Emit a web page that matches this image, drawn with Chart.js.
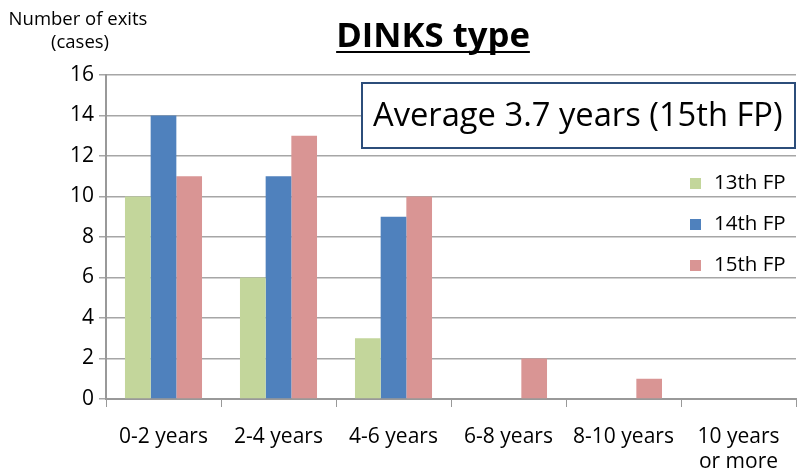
<!DOCTYPE html>
<html>
<head>
<meta charset="utf-8">
<script src="https://cdn.jsdelivr.net/npm/chart.js@4.4.1/dist/chart.umd.min.js"></script>
<style>
  html, body { margin: 0; padding: 0; background: #fff; }
  #wrap { width: 801px; height: 473px; position: relative; }
</style>
</head>
<body>
<div id="wrap"><canvas id="exitChart"></canvas></div>
<script>
// years until exit, per fiscal-plan round
const categories = ['0-2 years', '2-4 years', '4-6 years', '6-8 years', '8-10 years', ['10 years', 'or more']];
const fp13 = [10, 6, 3, 0, 0, 0];
const fp14 = [14, 11, 9, 0, 0, 0];
const fp15 = [11, 13, 10, 2, 1, 0];
const seriesNames = ['13th FP', '14th FP', '15th FP'];
const seriesColors = ['#c3d69b', '#4f81bd', '#d99594'];
const yTicks = [0, 2, 4, 6, 8, 10, 12, 14, 16];

const FONT = '"Open Sans", Lato, sans-serif';

// pick the font size that makes a string span the given width
function fitFont(c, text, weight, width) {
    c.font = weight + ' 20px ' + FONT;
    const size = 20 * width / c.measureText(text).width;
    c.font = weight + ' ' + size.toFixed(1) + 'px ' + FONT;
    return size;
}

// title, axis caption, average note and the legend are drawn by hand
const extras = {
    id: 'extras',
    afterDraw(chart) {
        const c = chart.ctx;
        c.save();
        c.fillStyle = '#000';

        // title with underline
        const title = 'DINKS type';
        fitFont(c, title, 'bold', 194);
        c.textAlign = 'center';
        c.textBaseline = 'alphabetic';
        c.fillText(title, 433, 47);
        const tw = c.measureText(title).width;
        c.fillRect(433 - tw / 2, 51, tw, 2);

        // y axis caption
        c.font = '18.5px ' + FONT;
        c.textBaseline = 'middle';
        c.fillText('Number of exits', 78, 20);
        c.fillText('(cases)', 80, 43);

        // average note
        c.fillStyle = '#fff';
        c.fillRect(362, 83, 433, 65);
        c.strokeStyle = '#2c4d7a';
        c.lineWidth = 2;
        c.strokeRect(362, 83, 433, 65);
        c.fillStyle = '#000';
        fitFont(c, 'Average 3.7 years (15th FP)', 'normal', 410);
        c.textAlign = 'left';
        c.fillText('Average 3.7 years (15th FP)', 373, 117);

        // legend
        c.font = '20.5px ' + FONT;
        seriesNames.forEach((name, i) => {
            const y = 183 + i * 41;
            c.fillStyle = seriesColors[i];
            c.fillRect(690, y - 5, 11, 11);
            c.fillStyle = '#000';
            c.fillText(name, 714, y);
        });
        c.restore();
    }
};

const ctx = document.getElementById('exitChart').getContext('2d');
const exitChart = new Chart(ctx, {
    type: 'bar',
    data: {
        labels: categories,
        datasets: [fp13, fp14, fp15].map((d, i) => ({
            label: seriesNames[i],
            data: d,
            backgroundColor: seriesColors[i],
            borderWidth: 0,
            categoryPercentage: 0.67,
            barPercentage: 1.0
        }))
    },
    options: {
        responsive: true,
        maintainAspectRatio: false,
        animation: false,
        layout: { padding: { top: 75, right: 5, left: 0, bottom: 0 } },
        plugins: {
            legend: { display: false },
            tooltip: { enabled: false }
        },
        scales: {
            x: {
                grid: {
                    display: true,
                    drawOnChartArea: false,
                    offset: true,
                    tickLength: 8,
                    color: '#999'
                },
                border: { color: '#999', width: 2 },
                ticks: {
                    color: '#000',
                    font: { family: FONT, size: 21 },
                    padding: 17,
                    lineHeight: 1.15,
                    maxRotation: 0,
                    autoSkip: false
                },
                afterFit(scale) { scale.height = 74; }
            },
            y: {
                min: 0,
                max: 16,
                afterBuildTicks(scale) {
                    scale.ticks = yTicks.map(v => ({ value: v }));
                },
                grid: {
                    color: '#a6a6a6',
                    lineWidth: 1.5,
                    tickLength: 7
                },
                border: { color: '#999', width: 2 },
                ticks: {
                    color: '#000',
                    font: { family: FONT, size: 21 },
                    padding: 5
                },
                afterFit(scale) { scale.width = 106; }
            }
        }
    },
    plugins: [extras]
});
</script>
</body>
</html>
